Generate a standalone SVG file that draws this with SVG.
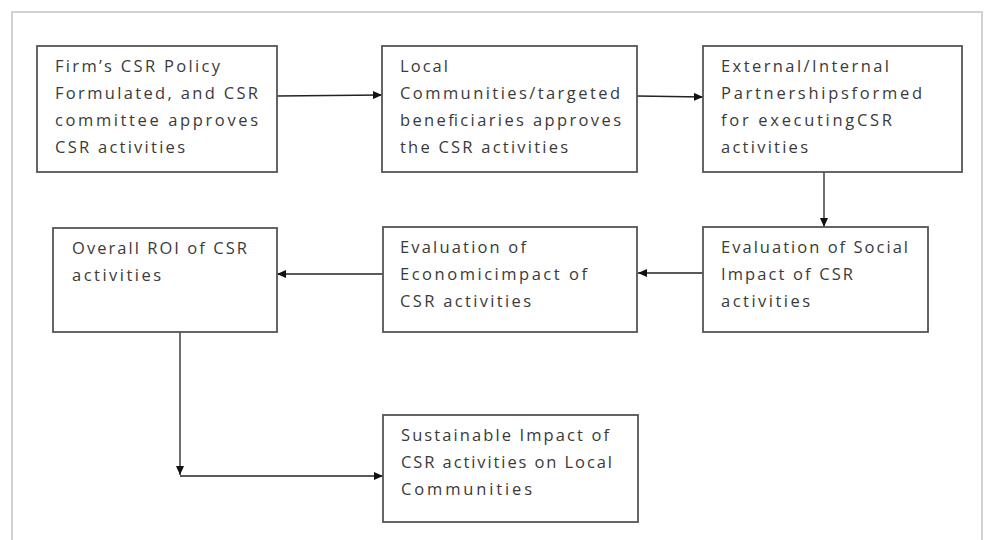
<svg xmlns="http://www.w3.org/2000/svg" width="985" height="540" viewBox="0 0 985 540">
<defs>
<style>
.box{fill:#fff;stroke:#555;stroke-width:1.8}
.t{font-family:"Open Sans","Liberation Sans",sans-serif;font-size:16.5px;fill:#3a3a3a}
.c{stroke:#222;stroke-width:1.3;fill:none;marker-end:url(#ah)}
</style>
<marker id="ah" markerUnits="userSpaceOnUse" markerWidth="10" markerHeight="8" refX="9" refY="4" orient="auto">
<path d="M0,0 L9,4 L0,8 Z" fill="#111"/>
</marker>
</defs>
<rect width="985" height="540" fill="#fff"/>
<rect x="12" y="12" width="970" height="560" fill="none" stroke="#d2d2d2" stroke-width="2"/>

<g id="connectors">
<line class="c" x1="277" y1="96" x2="382" y2="95"/>
<line class="c" x1="637" y1="96" x2="703" y2="97"/>
<line class="c" x1="824" y1="172" x2="824" y2="227"/>
<line class="c" x1="703" y1="273" x2="638" y2="273"/>
<line class="c" x1="383" y1="274" x2="277" y2="274"/>
<line class="c" x1="180" y1="332" x2="180" y2="475"/>
<line class="c" x1="180" y1="476" x2="383" y2="476"/>
</g>

<g id="n1">
<rect class="box" x="37" y="46" width="240" height="126"/>
<text class="t" x="55" y="72" textLength="165" lengthAdjust="spacing">Firm’s CSR Policy</text>
<text class="t" x="55" y="99" textLength="203" lengthAdjust="spacing">Formulated, and CSR</text>
<text class="t" x="55" y="126" textLength="203" lengthAdjust="spacing">committee approves</text>
<text class="t" x="55" y="153" textLength="130" lengthAdjust="spacing">CSR activities</text>
</g>

<g id="n2">
<rect class="box" x="382" y="46" width="255" height="126"/>
<text class="t" x="400" y="72" textLength="48" lengthAdjust="spacing">Local</text>
<text class="t" x="400" y="99" textLength="220" lengthAdjust="spacing">Communities/targeted</text>
<text class="t" x="400" y="126" textLength="221" lengthAdjust="spacing">beneficiaries approves</text>
<text class="t" x="400" y="153" textLength="168" lengthAdjust="spacing">the CSR activities</text>
</g>

<g id="n3">
<rect class="box" x="703" y="46" width="259" height="126"/>
<text class="t" x="721" y="72" textLength="168" lengthAdjust="spacing">External/Internal</text>
<text class="t" x="721" y="99" textLength="201" lengthAdjust="spacing">Partnershipsformed</text>
<text class="t" x="721" y="126" textLength="171" lengthAdjust="spacing">for executingCSR</text>
<text class="t" x="721" y="153" textLength="87" lengthAdjust="spacing">activities</text>
</g>

<g id="n4">
<rect class="box" x="53" y="228" width="224" height="104"/>
<text class="t" x="72" y="254" textLength="175" lengthAdjust="spacing">Overall ROI of CSR</text>
<text class="t" x="72" y="281" textLength="89" lengthAdjust="spacing">activities</text>
</g>

<g id="n5">
<rect class="box" x="383" y="227" width="254" height="105"/>
<text class="t" x="400" y="253" textLength="126" lengthAdjust="spacing">Evaluation of</text>
<text class="t" x="400" y="280" textLength="187" lengthAdjust="spacing">Economicimpact of</text>
<text class="t" x="400" y="307" textLength="131" lengthAdjust="spacing">CSR activities</text>
</g>

<g id="n6">
<rect class="box" x="703" y="227" width="225" height="105"/>
<text class="t" x="721" y="253" textLength="187" lengthAdjust="spacing">Evaluation of Social</text>
<text class="t" x="721" y="280" textLength="132" lengthAdjust="spacing">Impact of CSR</text>
<text class="t" x="721" y="307" textLength="89" lengthAdjust="spacing">activities</text>
</g>

<g id="n7">
<rect class="box" x="383" y="415" width="255" height="107"/>
<text class="t" x="401" y="441" textLength="208" lengthAdjust="spacing">Sustainable Impact of</text>
<text class="t" x="401" y="468" textLength="211" lengthAdjust="spacing">CSR activities on Local</text>
<text class="t" x="401" y="495" textLength="131" lengthAdjust="spacing">Communities</text>
</g>
</svg>
